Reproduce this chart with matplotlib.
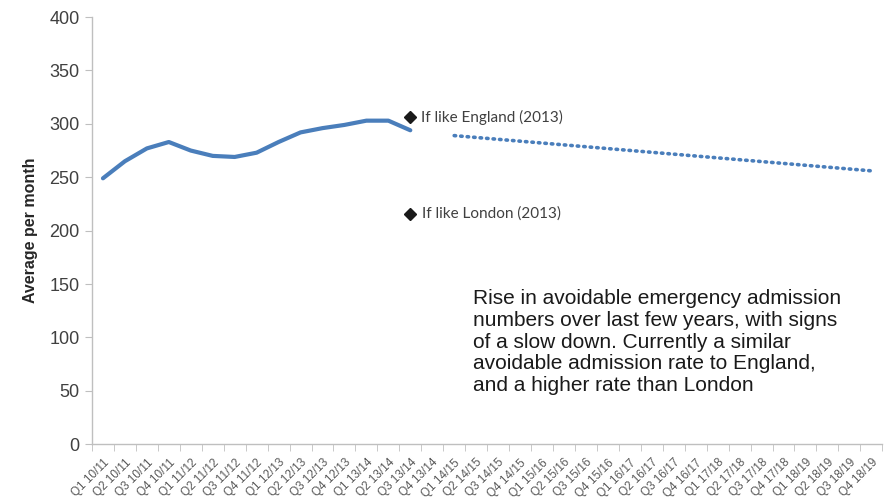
import matplotlib
matplotlib.use("Agg")
import matplotlib.pyplot as plt
import numpy as np

# quarters Q1 10/11 .. Q4 18/19
years = ["10/11", "11/12", "12/13", "13/14", "14/15", "15/16", "16/17", "17/18", "18/19"]
quarters = [f"Q{q} {y}" for y in years for q in range(1, 5)]

# actual avoidable emergency admissions, average per month
actual = [249, 265, 277, 283, 275, 270, 269, 273, 283, 292, 296, 299, 303, 303, 294]

# projected trend, Q3 14/15 to Q4 18/19
proj_idx = [16, 35]
proj_vals = [289, 256]

# comparison points at Q3 13/14
england_2013 = 306
london_2013 = 216

note = ("Rise in avoidable emergency admission\n"
        "numbers over last few years, with signs\n"
        "of a slow down. Currently a similar\n"
        "avoidable admission rate to England,\n"
        "and a higher rate than London")

blue = "#4a7ebb"
grey = "#bfbfbf"
txt = "#404040"

fig = plt.figure(figsize=(8.93, 5.03), dpi=100)
ax = fig.add_axes([0.103, 0.117, 0.885, 0.849])

n = len(quarters)
x = np.arange(n)

ax.plot(x[:len(actual)], actual, color=blue, lw=3, solid_capstyle="round", zorder=3)
ax.plot(proj_idx, proj_vals, color=blue, lw=2.6, linestyle=(0, (0.4, 1.4)),
        dash_capstyle="round", zorder=3)

i_cmp = len(actual) - 1
ax.plot([i_cmp], [england_2013], marker="D", color="#1a1a1a", ms=6.5, zorder=4)
ax.plot([i_cmp], [london_2013], marker="D", color="#1a1a1a", ms=6.5, zorder=4)
ax.text(i_cmp + 0.5, england_2013, "If like England (2013)", fontsize=11,
        family="Lato", color=txt, va="center")
ax.text(i_cmp + 0.55, london_2013, "If like London (2013)", fontsize=11,
        family="Lato", color=txt, va="center")

ax.text(16.87, 145, note, fontsize=15, family="Liberation Sans", color="#1a1a1a",
        va="top", ha="left", linespacing=1.18)

ax.set_xlim(-0.5, n - 0.5)
ax.set_ylim(0, 400)
ax.set_yticks(np.arange(0, 401, 50))
ax.set_xticks(x)
ax.set_xticklabels(quarters, rotation=45, ha="right", rotation_mode="anchor",
                   fontsize=8.5, family="Liberation Sans", color="#595959")
ax.set_xticks(np.arange(-0.5, n, 1), minor=True)
ax.tick_params(axis="x", which="major", length=0, pad=9)
ax.tick_params(axis="x", which="minor", length=5, color=grey, direction="out")
ax.tick_params(axis="y", length=5, color=grey, labelsize=13, labelcolor=txt, pad=4)
for lab in ax.get_yticklabels():
    lab.set_family("Liberation Sans")

for s in ["top", "right"]:
    ax.spines[s].set_visible(False)
for s in ["left", "bottom"]:
    ax.spines[s].set_color(grey)
    ax.spines[s].set_linewidth(1)

ax.set_ylabel("Average per month", fontsize=11.5, fontweight="bold",
              family="Liberation Sans", color="#262626", labelpad=8)

fig.savefig("out.png", dpi=100)
